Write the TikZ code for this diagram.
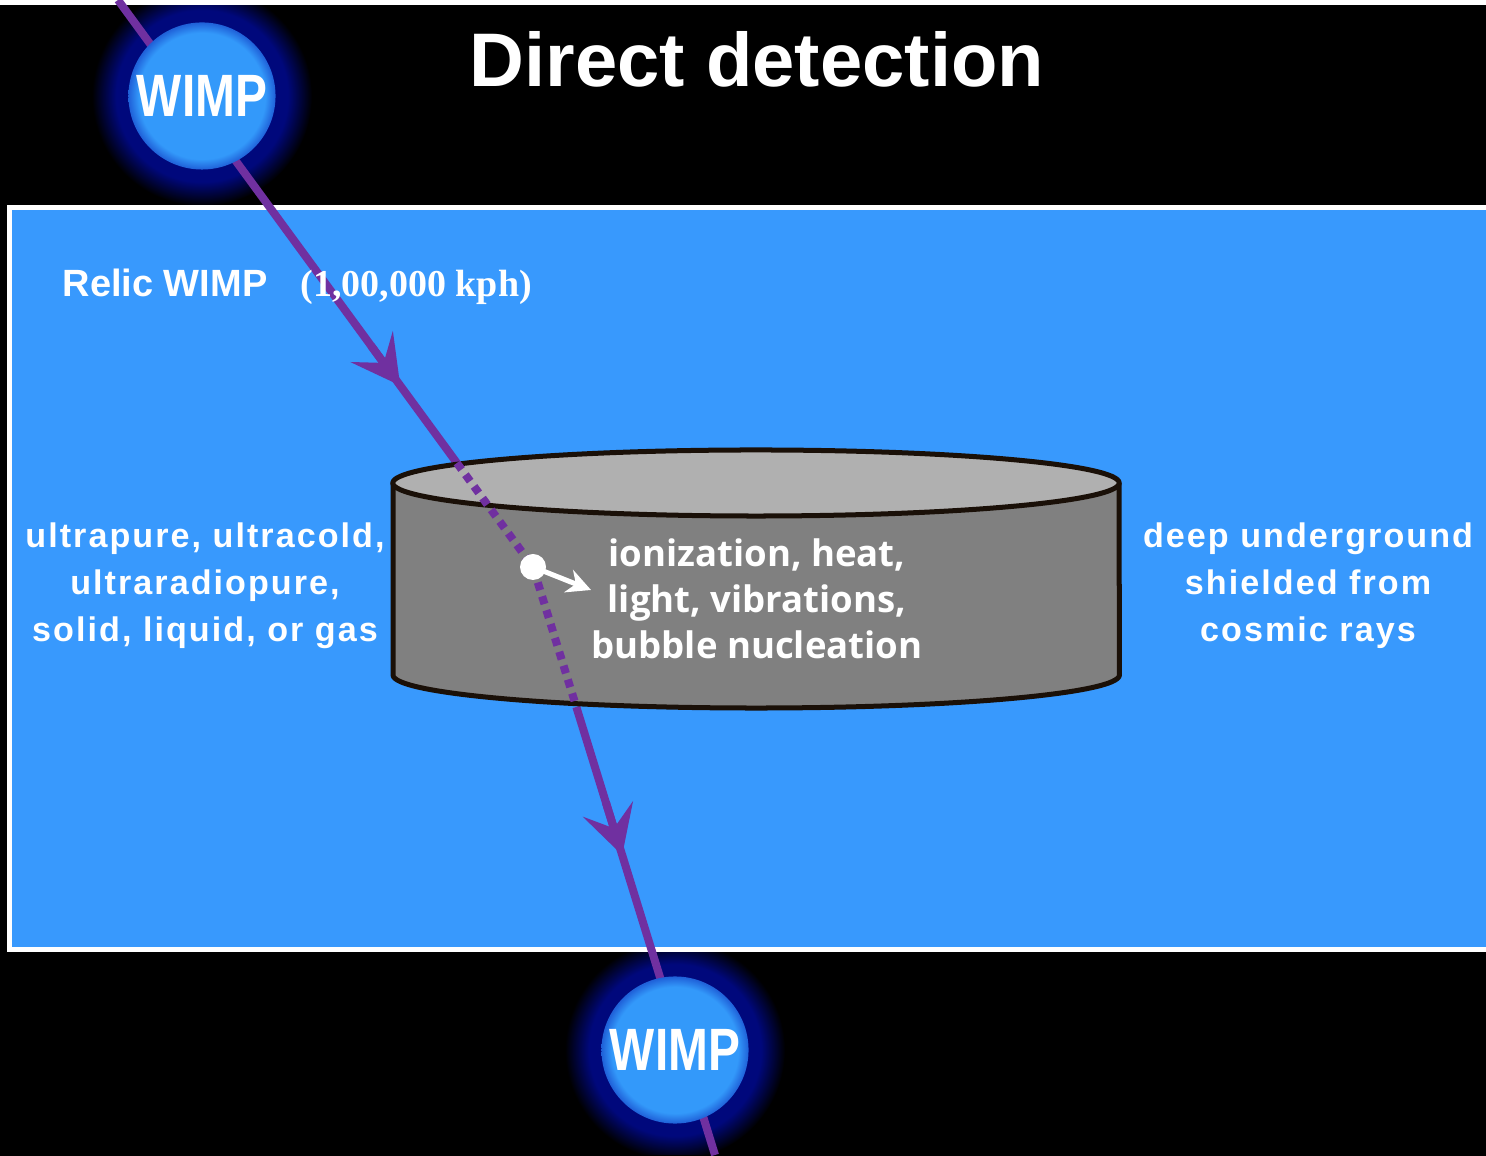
\documentclass[tikz,border=0pt]{standalone}
\usepackage{fontspec}
\setmainfont{Liberation Sans}
\newfontfamily\serifbold{Liberation Serif}
\newfontfamily\sidefont[LetterSpace=6]{Liberation Sans}
\newfontfamily\midfont{Open Sans}
\usetikzlibrary{calc,arrows.meta}

\definecolor{bgblue}{HTML}{3899FD}
\definecolor{ballblue}{HTML}{3399FA}
\definecolor{ballrim}{HTML}{1F60D8}
\definecolor{track}{HTML}{7030A0}
\definecolor{halocol}{HTML}{00087C}
\definecolor{rim}{HTML}{1A1008}
\definecolor{lidgray}{HTML}{B0B0B0}
\definecolor{bodygray}{HTML}{808080}

% WIMP sphere with a soft rim (25bp = edge of the shaded circle)
\pgfdeclareradialshading{wimpball}{\pgfpointorigin}{%
  color(0bp)=(ballblue); color(21.5bp)=(ballblue); color(25bp)=(ballrim); color(50bp)=(ballrim)}
% dark glow round each WIMP
\pgfdeclareradialshading{haloshade}{\pgfpointorigin}{%
  color(0bp)=(halocol); color(19.5bp)=(halocol); color(22bp)=(halocol!55!black);
  color(25bp)=(black); color(50bp)=(black)}

\tikzset{
  trackline/.style={track, line width=0.08cm},
  trackdots/.style={track, line width=0.08cm, dash pattern=on 0.08cm off 0.065cm},
  trackhead/.style={trackline, -{Stealth[length=0.48cm, width=0.52cm, inset=0.2cm]}},
  wimp/.style={circle, minimum size=1.47cm, inner sep=0pt, shade, shading=wimpball,
    text=white, font=\fontsize{17pt}{17pt}\selectfont\bfseries},
  halo/.style={shade, shading=haloshade},
  rimline/.style={draw=rim, line width=0.05cm, line join=round},
  label/.style={text=white, inner sep=0pt},
  sidetext/.style={label, align=center, font=\sidefont\bfseries\fontsize{9.7pt}{13.4pt}\selectfont},
  midtext/.style={label, align=center, font=\midfont\bfseries\fontsize{10.4pt}{13.1pt}\selectfont},
}

\begin{document}
\begin{tikzpicture}[x=0.01cm, y=0.01cm]
\useasboundingbox (0,0) rectangle (1486,1155);
\fill[black] (-10,-10) rectangle (1496,1165);

% incoming and outgoing WIMPs: glow
\coordinate (c1) at (202,1059);
\coordinate (c2) at (675,105);
\shade[halo] (c1) circle (1.1cm);
\shade[halo] (c2) circle (1.1cm);
\fill[black] (-10,-10) rectangle (1496,0);

\fill[white] (-10,1150) rectangle (1496,1165);

% laboratory region
\filldraw[fill=bgblue, draw=white, line width=0.05cm] (9.5,947.5) rectangle (1500,205.5);

% WIMP track
\coordinate (s) at (118,1155);
\coordinate (k) at (533,588);
\coordinate (e) at (715,0);
\coordinate (rimin) at ($(s)!0.8166!(k)$);
\coordinate (rimout) at ($(k)!0.238!(e)$);
\draw[trackline] (s) -- (rimin);
\draw[trackline] (rimout) -- (e);
\draw[trackhead] ($(s)!0.61!(k)$) -- ($(s)!0.68!(k)$);
\draw[trackhead] ($(k)!0.40!(e)$) -- ($(k)!0.49!(e)$);

% WIMP spheres
\node[wimp] (w1) at (c1) {\scalebox{0.8}[1]{WIMP}};
\node[wimp] (w2) at (c2) {\scalebox{0.8}[1]{WIMP}};

% detector
\fill[bodygray] (393,672) -- (393,480)
  arc[start angle=180, end angle=360, x radius=3.63cm, y radius=0.33cm]
  -- (1119,672)
  arc[start angle=0, end angle=-180, x radius=3.63cm, y radius=0.33cm] -- cycle;
\draw[rimline] (393,672) -- (393,480)
  arc[start angle=180, end angle=360, x radius=3.63cm, y radius=0.33cm]
  -- (1119,672);
\filldraw[rimline, fill=lidgray] (756,672) ellipse [x radius=3.63cm, y radius=0.33cm];

% track inside the detector
\draw[trackdots] (rimin) -- (k) -- (rimout);

% nuclear recoil
\node[circle, fill=white, minimum size=0.26cm, inner sep=0pt] (hit) at (k) {};
\coordinate (recoil) at (591,565);
\draw[white, line width=0.05cm, -{Stealth[length=0.24cm, width=0.24cm]}] (hit.center) -- (recoil);

% labels
\node[label, anchor=base, font=\fontsize{21.6pt}{26pt}\selectfont\bfseries] (title) at (757,1068) {Direct detection};
\node[label, anchor=base west, font=\fontsize{10.8pt}{13pt}\selectfont\bfseries] (relic) at (62,858) {Relic WIMP};
\node[label, anchor=base west, font=\serifbold\bfseries\fontsize{10.8pt}{13pt}\selectfont] (speed) at (300,858) {(1,00,000 kph)};
\node[sidetext] (medium) at (205,569) {ultrapure, ultracold,\\ultraradiopure,\\solid, liquid, or gas};
\node[sidetext] (site) at (1308,569) {deep underground\\shielded from\\cosmic rays};
\node[midtext] (signal) at (757,556) {ionization, heat,\\light, vibrations,\\bubble nucleation};
\end{tikzpicture}
\end{document}
